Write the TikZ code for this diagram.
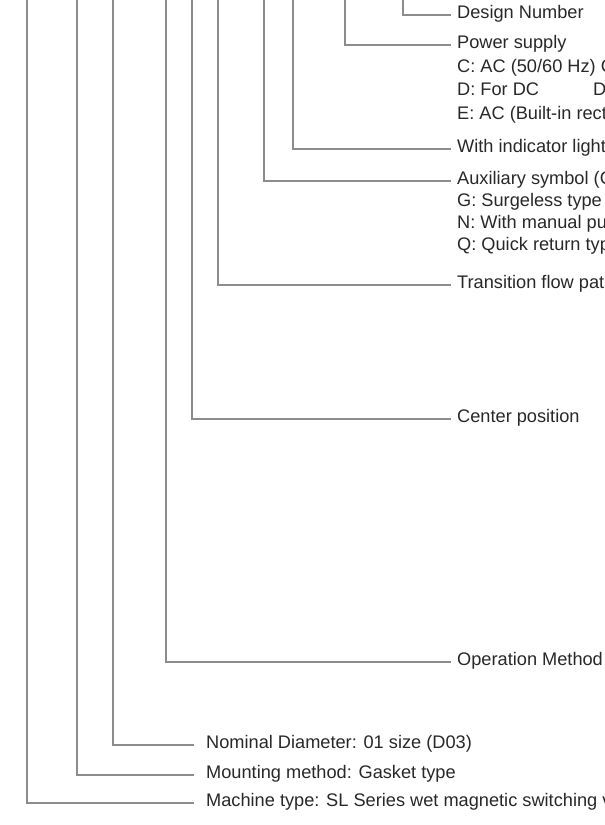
\documentclass[tikz,border=0pt]{standalone}
\usepackage{fontspec}
\setmainfont{Liberation Sans}
\usetikzlibrary{positioning}
\definecolor{leadgray}{RGB}{140,140,140}
\definecolor{labelgray}{RGB}{40,40,40}
\tikzset {
  % leader line from the code down to its field
  lead/.style = {
    draw = leadgray,
    line width = 1.1bp
  },
  % field name
  field/.style = {
    anchor = west,
    inner xsep = 6bp,
    inner ysep = 0,
    text = labelgray,
    font = \fontsize{18.2bp}{22bp}\selectfont,
    text height = 0.72em,
    text depth = 0pt
  },
  % field name of the lower group
  lowfield/.style = {
    field,
    inner xsep = 12bp
  },
  % choice listed under a field
  choice/.style = {
    field
  },
  node distance = 23.5bp
}

\begin{document}
\begin{tikzpicture}[x=1bp, y=1bp]
    \useasboundingbox (0,0) rectangle (605,-825);
    \clip (0,0) rectangle (605,-825);

    % upper group
    \node[field] (design) at (451,-15) {Design Number};
    \node[field] (power) at (451,-45) {Power supply};
    \node[choice] (powerc) [below=of power.west, anchor=west] {C: AC (50/60 Hz) C};
    \node[choice] (powerd) [below=of powerc.west, anchor=west] {D: For DC};
    \node[choice] (powerdd) at ([xshift=136bp]powerd.west) {D};
    \node[choice] (powere) [below=of powerd.west, anchor=west] {E: AC (Built-in recti};
    \node[field] (lamp) at (451,-149) {With indicator light};
    \node[field] (aux) at (451,-181) {Auxiliary symbol (C};
    \node[choice] (auxg) [below=22bp of aux.west, anchor=west] {G: Surgeless type (};
    \node[choice] (auxn) [below=22bp of auxg.west, anchor=west] {N: With manual pu};
    \node[choice] (auxq) [below=22bp of auxn.west, anchor=west] {Q: Quick return typ};
    \node[field] (flow) at (451,-285) {Transition flow pat};
    \node[field] (center) at (451,-419) {Center position};
    \node[field] (operation) at (451,-662) {Operation Method};

    % lower group
    \node[lowfield] (diameter) at (194,-745) {Nominal Diameter: 01 size (D03)};
    \node[lowfield] (mounting) at (194,-775) {Mounting method: Gasket type};
    \node[lowfield] (machine) at (194,-803) {Machine type: SL Series wet magnetic switching v};

    % leaders from the top edge
    \foreach \name/\x in {machine/27, mounting/77, diameter/113, operation/166,
        center/192, flow/218, aux/264, lamp/293, power/345, design/403} {
      \coordinate (\name top) at (\x,0);
      \draw[lead] (\name top) |- (\name.west);
    }
\end{tikzpicture}
\end{document}
